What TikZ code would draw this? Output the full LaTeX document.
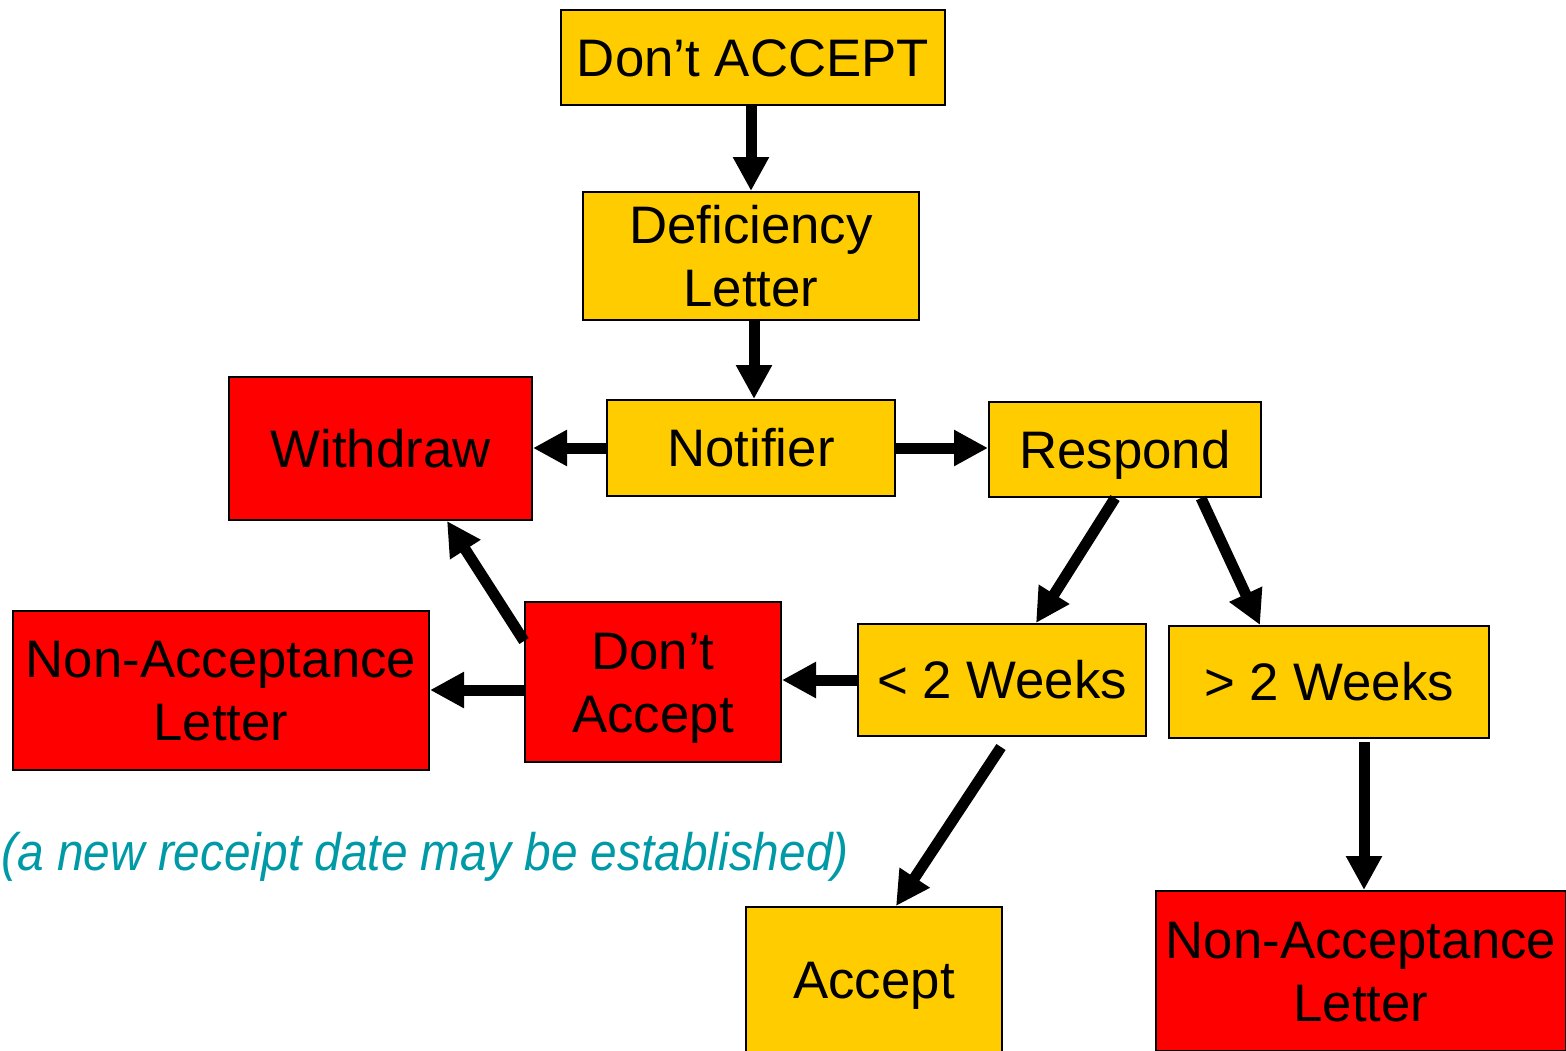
\documentclass[tikz,border=0pt]{standalone}
\usepackage{fontspec}
\setmainfont{Liberation Sans}
\usepackage{tikz}
\usetikzlibrary{arrows.meta, calc, positioning}

\definecolor{boxyellow}{RGB}{255,204,0}
\definecolor{boxred}{RGB}{255,0,0}
\definecolor{noteteal}{RGB}{0,153,166}

% struts that keep the capitals centred in a box
\newcommand{\capstrut}{\rule{0pt}{24.9pt}}
\newcommand{\basestrut}{\rule[-6pt]{0pt}{6pt}}

\tikzset{
    ybox/.style={draw=black, line width=1pt, fill=boxyellow, align=center,
        inner sep=0pt, font=\fontsize{26.4}{31.5}\selectfont},
    rbox/.style={ybox, fill=boxred},
    flow/.style={line width=5.5pt, -{Triangle[length=17pt, width=17pt]}}
}

\begin{document}
\begin{tikzpicture}[x=0.5pt, y=-0.5pt]
    \useasboundingbox (0,0) rectangle (1566,1050);
    \clip (0,0) rectangle (1566,1050);

    % Draw the boxes
    \node[ybox, minimum width=192pt, minimum height=47.5pt] (dontacc) at (753,57.5) {\capstrut Don’t ACCEPT\basestrut};
    \node[ybox, minimum width=168pt, minimum height=64pt] (defl) at (751,256) {\capstrut Deficiency\\Letter\basestrut};
    \node[ybox, minimum width=144pt, minimum height=48pt] (notif) at (751,448) {\capstrut Notifier\basestrut};
    \node[rbox, minimum width=151.5pt, minimum height=71.5pt] (withd) at (380.5,448.5) {\capstrut Withdraw\basestrut};
    \node[ybox, minimum width=136pt, minimum height=47.5pt] (resp) at (1125,449.5) {\capstrut Respond\basestrut};
    \node[ybox, minimum width=144pt, minimum height=56pt] (lesstwo) at (1002,680) {\capstrut < 2 Weeks\basestrut};
    \node[ybox, minimum width=160pt, minimum height=56pt] (moretwo) at (1329,682) {\capstrut > 2 Weeks\basestrut};
    \node[rbox, minimum width=128pt, minimum height=80pt] (dacc) at (653,682) {\capstrut Don’t\\Accept\basestrut};
    \node[rbox, minimum width=208pt, minimum height=79.5pt] (nonaccl) at (221,690.5) {\capstrut Non-Acceptance\\Letter\basestrut};
    \node[ybox, minimum width=128pt, minimum height=73pt] (accept) at (874,980) {\capstrut Accept\basestrut};
    \node[rbox, minimum width=205pt, minimum height=80pt] (nonaccr) at (1361,971) {\capstrut Non-Acceptance\\Letter\basestrut};

    % Note
    \node[anchor=base west, inner sep=0pt, text=noteteal] (note) at (1,870)
        {\scalebox{0.905}[1]{\fontsize{26.4}{31.5}\selectfont\itshape (a new receipt date may be established)}};

    % Arrow end points
    \coordinate (s1) at ($(dontacc.south)+(-2,0)$);
    \coordinate (s2) at ($(defl.south)+(3,0)$);
    \coordinate (s3) at ($(dacc.west)+(0,8)$);
    \coordinate (s4) at ($(moretwo.south)+(35,3)$);

    % Draw the arrows
    \draw[flow] (s1) -- (s1 |- defl.north);
    \draw[flow] (s2) -- (s2 |- notif.north);
    \draw[flow] (notif.west) -- (notif.west -| withd.east);
    \draw[flow] (notif.east) -- (notif.east -| resp.west);
    \draw[flow] ($(resp.south)+(-10,0)$) -- ($(lesstwo.north)+(34,0)$);
    \draw[flow] ($(resp.south)+(76,0)$) -- ($(moretwo.north)+(-69,0)$);
    \draw[flow] (lesstwo.west) -- (lesstwo.west -| dacc.east);
    \draw[flow] ($(dacc.west)+(0,-41)$) -- ($(withd.south)+(66.5,0)$);
    \draw[flow] (s3) -- (s3 -| nonaccl.east);
    \draw[flow] ($(lesstwo.south)+(-1,10)$) -- ($(accept.north)+(22,0)$);
    \draw[flow] (s4) -- (s4 |- nonaccr.north);
\end{tikzpicture}
\end{document}
